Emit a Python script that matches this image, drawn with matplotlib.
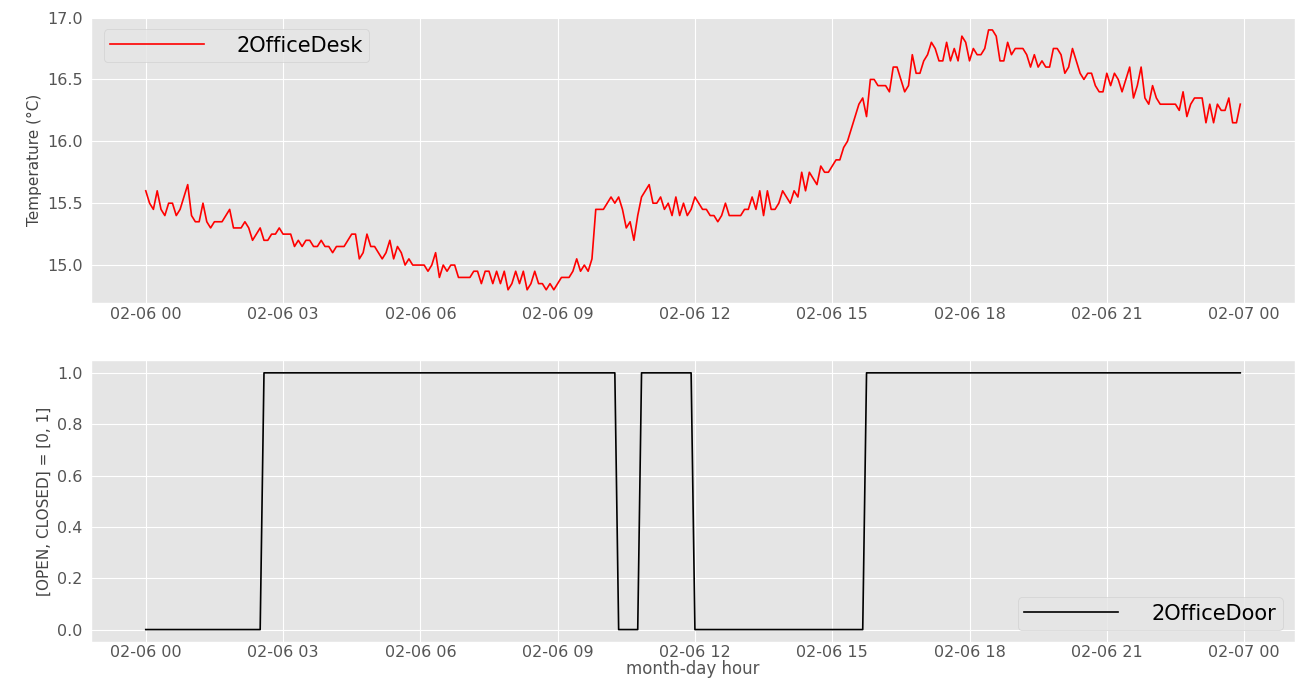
"""
Office sensors, one day: desk temperature and door state (5 min samples).
"""

import numpy as np
import pandas as pd
import matplotlib
matplotlib.use("Agg")
import matplotlib.pyplot as plt
import matplotlib.dates as mdates

plt.style.use("ggplot")
plt.rcParams["font.family"] = ["DejaVu Sans"]

START = "2019-02-06 00:00"
N_SAMPLES = 288  # 24h at 5 min

# desk temperature, °C, one reading every 5 min
desk_temp = [
    15.6, 15.5, 15.45, 15.6, 15.45, 15.4, 15.5, 15.5, 15.4, 15.45, 15.55, 15.65,
    15.4, 15.35, 15.35, 15.5, 15.35, 15.3, 15.35, 15.35, 15.35, 15.4, 15.45, 15.3,
    15.3, 15.3, 15.35, 15.3, 15.2, 15.25, 15.3, 15.2, 15.2, 15.25, 15.25, 15.3,
    15.25, 15.25, 15.25, 15.15, 15.2, 15.15, 15.2, 15.2, 15.15, 15.15, 15.2, 15.15,
    15.15, 15.1, 15.15, 15.15, 15.15, 15.2, 15.25, 15.25, 15.05, 15.1, 15.25, 15.15,
    15.15, 15.1, 15.05, 15.1, 15.2, 15.05, 15.15, 15.1, 15.0, 15.05, 15.0, 15.0,
    15.0, 15.0, 14.95, 15.0, 15.1, 14.9, 15.0, 14.95, 15.0, 15.0, 14.9, 14.9,
    14.9, 14.9, 14.95, 14.95, 14.85, 14.95, 14.95, 14.85, 14.95, 14.85, 14.95, 14.8,
    14.85, 14.95, 14.85, 14.95, 14.8, 14.85, 14.95, 14.85, 14.85, 14.8, 14.85, 14.8,
    14.85, 14.9, 14.9, 14.9, 14.95, 15.05, 14.95, 15.0, 14.95, 15.05, 15.45, 15.45,
    15.45, 15.5, 15.55, 15.5, 15.55, 15.45, 15.3, 15.35, 15.2, 15.4, 15.55, 15.6,
    15.65, 15.5, 15.5, 15.55, 15.45, 15.5, 15.4, 15.55, 15.4, 15.5, 15.4, 15.45,
    15.55, 15.5, 15.45, 15.45, 15.4, 15.4, 15.35, 15.4, 15.5, 15.4, 15.4, 15.4,
    15.4, 15.45, 15.45, 15.55, 15.45, 15.6, 15.4, 15.6, 15.45, 15.45, 15.5, 15.6,
    15.55, 15.5, 15.6, 15.55, 15.75, 15.6, 15.75, 15.7, 15.65, 15.8, 15.75, 15.75,
    15.8, 15.85, 15.85, 15.95, 16.0, 16.1, 16.2, 16.3, 16.35, 16.2, 16.5, 16.5,
    16.45, 16.45, 16.45, 16.4, 16.6, 16.6, 16.5, 16.4, 16.45, 16.7, 16.55, 16.55,
    16.65, 16.7, 16.8, 16.75, 16.65, 16.65, 16.8, 16.65, 16.75, 16.65, 16.85, 16.8,
    16.65, 16.75, 16.7, 16.7, 16.75, 16.9, 16.9, 16.85, 16.65, 16.65, 16.8, 16.7,
    16.75, 16.75, 16.75, 16.7, 16.6, 16.7, 16.6, 16.65, 16.6, 16.6, 16.75, 16.75,
    16.7, 16.55, 16.6, 16.75, 16.65, 16.55, 16.5, 16.55, 16.55, 16.45, 16.4, 16.4,
    16.55, 16.45, 16.55, 16.5, 16.4, 16.5, 16.6, 16.35, 16.45, 16.6, 16.35, 16.3,
    16.45, 16.35, 16.3, 16.3, 16.3, 16.3, 16.3, 16.25, 16.4, 16.2, 16.3, 16.35,
    16.35, 16.35, 16.15, 16.3, 16.15, 16.3, 16.25, 16.25, 16.35, 16.15, 16.15, 16.3,
]

# door state: 0 = open, 1 = closed, as (first sample index, state) changes
door_changes = [(0, 0), (31, 1), (124, 0), (130, 1), (144, 0), (189, 1)]

times = pd.date_range(START, periods=N_SAMPLES, freq="5min")
temp = pd.Series(desk_temp, index=times)

door_state = np.zeros(N_SAMPLES)
for idx, state in door_changes:
    door_state[idx:] = state
door = pd.Series(door_state, index=times)

fig = plt.figure(figsize=(12.95, 6.78), dpi=100)
ax1 = fig.add_axes([0.0703, 0.5534, 0.9297, 0.4216])
ax2 = fig.add_axes([0.0703, 0.0525, 0.9297, 0.4165])

ax1.plot(temp.index, temp.values, color="red", linewidth=1.2, label="2OfficeDesk")
ax2.plot(door.index, door.values, color="black", linewidth=1.2, label="2OfficeDoor")

ax1.set_ylabel("Temperature (°C)", fontsize=11, color="#444444")
ax2.set_ylabel("[OPEN, CLOSED] = [0, 1]", fontsize=11, color="#444444")

for ax in (ax1, ax2):
    ax.xaxis.set_major_locator(mdates.HourLocator(byhour=range(0, 24, 3)))
    ax.xaxis.set_major_formatter(mdates.DateFormatter("%m-%d %H"))
    ax.tick_params(axis="both", length=0, labelsize=11.5, colors="#555555")
    ax.tick_params(axis="y", pad=6)
ax1.tick_params(axis="x", pad=3)
ax2.tick_params(axis="x", pad=2)

ax2.set_xlabel("month-day hour", fontsize=12, color="#555555", labelpad=0)

ax1.set_yticks([15.0, 15.5, 16.0, 16.5, 17.0])
ax2.set_yticks([0.0, 0.2, 0.4, 0.6, 0.8, 1.0])

ax1.legend(loc="upper left", fontsize=15, handlelength=4.5, handletextpad=1.6,
           borderpad=0.3, borderaxespad=0.6)
ax2.legend(loc="lower right", fontsize=15, handlelength=4.5, handletextpad=1.6,
           borderpad=0.3, borderaxespad=0.6)

fig.savefig("out.png", dpi=100)
